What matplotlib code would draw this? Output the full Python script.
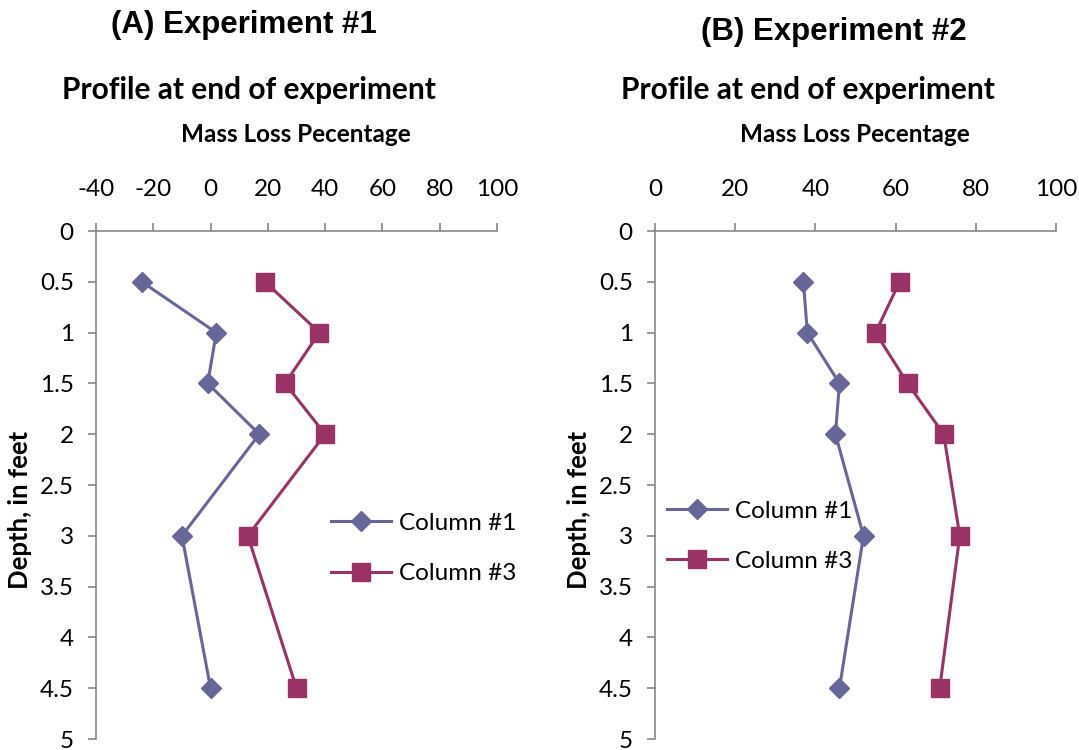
import matplotlib
matplotlib.use("Agg")
import matplotlib.pyplot as plt
from matplotlib.ticker import FuncFormatter

# depth below surface (ft) and mass loss (%) per column
depth = [0.5, 1.0, 1.5, 2.0, 3.0, 4.5]

exp1_col1 = [-24, 2, -1, 17, -10, 0]
exp1_col3 = [19, 38, 26, 40, 13, 30]

exp2_col1 = [37, 38, 46, 45, 52, 46]
exp2_col3 = [61, 55, 63, 72, 76, 71]

series_names = ["Column #1", "Column #3"]
panel_titles = ["(A) Experiment #1", "(B) Experiment #2"]
yticks = [0, 0.5, 1, 1.5, 2, 2.5, 3, 3.5, 4, 4.5, 5]

c1 = "#666699"
c3 = "#993366"
axis_gray = "#868686"
body_font = "Lato"
title_font = "Liberation Sans"

W, H = 1079, 750
fig = plt.figure(figsize=(W / 100, H / 100), dpi=100)


def px(x, y):
    return x / W, 1 - y / H


# plain hyphen for negatives, like the spreadsheet does
plain = FuncFormatter(lambda v, pos: "%g" % v)


def make_panel(left_px, xlim, xticks, col1, col3, leg_anchor):
    ax = fig.add_axes([left_px / W, 11 / H, 401 / W, 508 / H])
    ax.plot(col1, depth, color=c1, lw=2.2, marker="D", ms=9.8,
            label=series_names[0], clip_on=False)
    ax.plot(col3, depth, color=c3, lw=2.2, marker="s", ms=12.8,
            label=series_names[1], clip_on=False)
    ax.set_xlim(*xlim)
    ax.set_ylim(5, 0)
    ax.set_xticks(xticks)
    ax.set_yticks(yticks)
    ax.xaxis.set_major_formatter(plain)
    ax.yaxis.set_major_formatter(plain)
    ax.xaxis.tick_top()
    for s in ["right", "bottom"]:
        ax.spines[s].set_visible(False)
    for s in ["left", "top"]:
        ax.spines[s].set_color(axis_gray)
        ax.spines[s].set_linewidth(1.2)
    ax.tick_params(axis="both", colors=axis_gray, length=6, width=1.2,
                   labelcolor="black", labelsize=17.5)
    ax.tick_params(axis="x", pad=16)
    ax.tick_params(axis="y", pad=10)
    for lab in ax.get_xticklabels() + ax.get_yticklabels():
        lab.set_fontfamily(body_font)
    ax.legend(loc="upper left", bbox_to_anchor=leg_anchor, frameon=False,
              prop={"family": body_font, "size": 17.5}, handlelength=2.45,
              handletextpad=0.35, labelspacing=1.2, borderpad=0,
              borderaxespad=0, numpoints=1)
    return ax


make_panel(96, (-40, 100), range(-40, 101, 20), exp1_col1, exp1_col3,
           (0.586, 0.445))
make_panel(655, (0, 100), range(0, 101, 20), exp2_col1, exp2_col3,
           (0.03, 0.469))

# headings and axis labels
fig.text(*px(244, 33), panel_titles[0], ha="center", va="baseline",
         fontsize=22.5, fontweight="bold", family=title_font)
fig.text(*px(834, 40), panel_titles[1], ha="center", va="baseline",
         fontsize=22.5, fontweight="bold", family=title_font)
for cx in (249, 808):
    fig.text(*px(cx, 90), "Profile at end of experiment", ha="center",
             va="center", fontsize=21.5, fontweight="bold", family=body_font)
for cx in (296, 855):
    fig.text(*px(cx, 134), "Mass Loss Pecentage", ha="center", va="center",
             fontsize=17.5, fontweight="bold", family=body_font)
for cx in (20, 579):
    fig.text(*px(cx, 510), "Depth, in feet", ha="center", va="center",
             rotation=90, fontsize=18.5, fontweight="bold", family=body_font)

fig.savefig("out.png", dpi=100)
